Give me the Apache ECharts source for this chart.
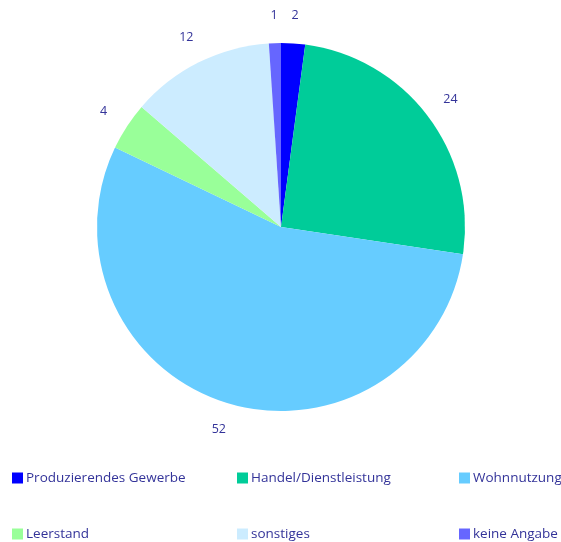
<!DOCTYPE html>
<html><head><meta charset="utf-8">
<script src="https://cdn.jsdelivr.net/npm/echarts@6/dist/echarts.min.js"></script>
<style>html,body{margin:0;padding:0;background:#fff}#c{width:561px;height:542px}</style>
</head><body><div id="c"></div>
<script>
const categories = ["Produzierendes Gewerbe","Handel/Dienstleistung","Wohnnutzung","Leerstand","sonstiges","keine Angabe"];
const values = [2,24,52,4,12,1];
const colors = ["#0000FF","#00CC99","#66CCFF","#99FF99","#CCECFF","#6666FF"];
const textColor = "#333399";
const font = "Open Sans";

const chart = echarts.init(document.getElementById('c'), null, {renderer:'canvas'});
const legendPos = [[12,471],[237,471],[459,471],[12,527],[237,527],[459,527]];
const legends = categories.map((n,i)=>({
  data:[n], left:legendPos[i][0], top:legendPos[i][1], orient:'horizontal', padding:0,
  itemWidth:11, itemHeight:11, itemGap:0, icon:'rect',
  textStyle:{color:textColor, fontSize:13.5, fontFamily:font, padding:[0,0,0,-2]},
  selectedMode:false
}));
chart.setOption({
  animation:false,
  color:colors,
  legend:legends,
  series:[{
    type:'pie', name:'main', center:[281,227], radius:184, startAngle:90, clockwise:true,
    label:{show:false}, labelLine:{show:false}, silent:true,
    itemStyle:{borderWidth:0},
    data:categories.map((n,i)=>({name:n,value:values[i],itemStyle:{color:colors[i]}}))
  },{
    type:'pie', name:'labels', center:[281,227], radius:[196,222], startAngle:90, clockwise:true,
    silent:true, legendHoverLink:false,
    itemStyle:{color:'rgba(0,0,0,0)'},
    label:{show:true, position:'inside', formatter:'{c}', color:textColor, fontSize:12.5, fontFamily:font},
    labelLine:{show:false},
    data:categories.map((n,i)=>({name:n,value:values[i],itemStyle:{color:'rgba(0,0,0,0)'}}))
  }]
});
</script></body></html>
